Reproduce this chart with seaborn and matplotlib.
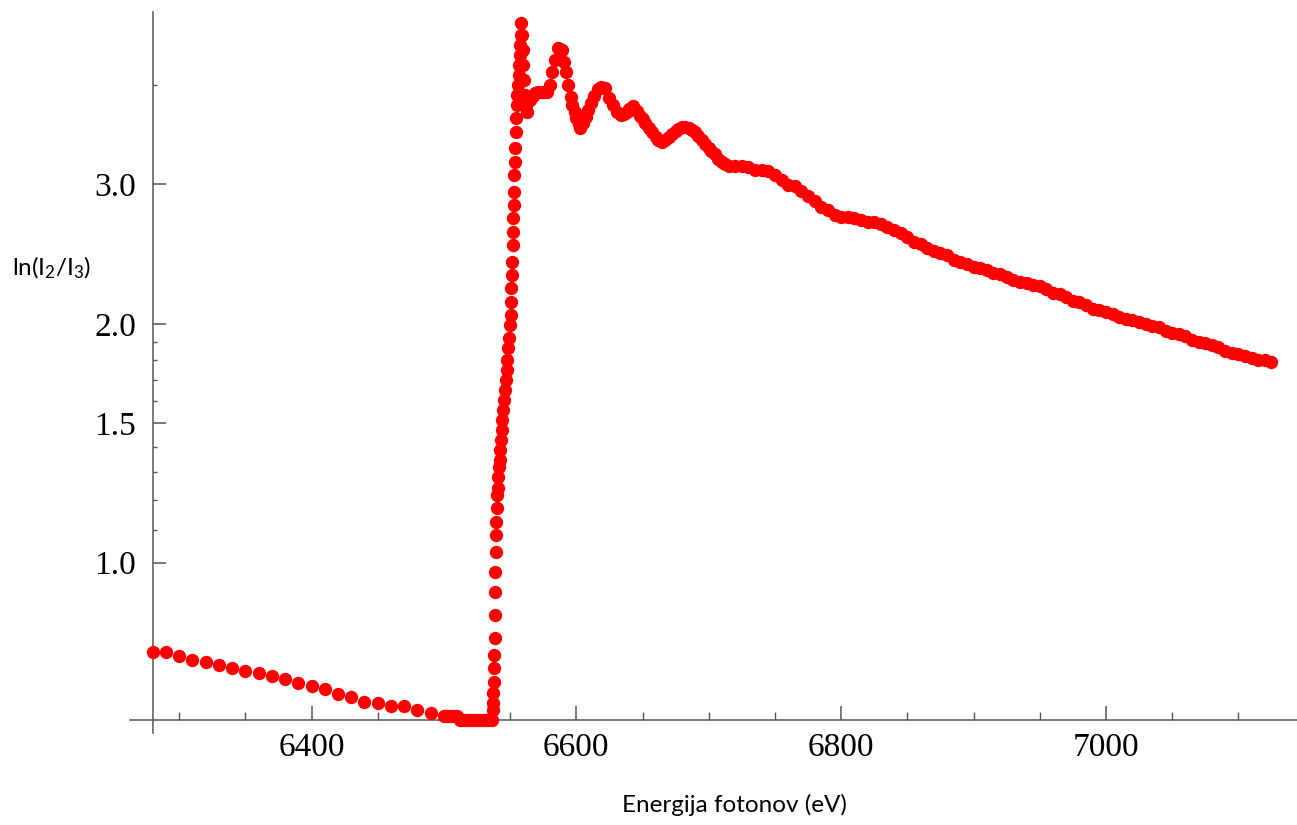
import numpy as np
import pandas as pd
import matplotlib
matplotlib.use('Agg')
import matplotlib.pyplot as plt
import matplotlib.ticker as mticker
import seaborn as sns

# pre-edge points (10 eV step)
energy_pre = [6280, 6290, 6300, 6310, 6320, 6330, 6340, 6350, 6360, 6370, 6380, 6390,
              6400, 6410, 6420, 6430, 6440, 6450, 6460, 6470, 6480, 6490, 6500]
lnratio_pre = [0.771, 0.771, 0.763, 0.755, 0.750, 0.744, 0.737, 0.731, 0.725, 0.719, 0.713, 0.706,
               0.700, 0.694, 0.684, 0.678, 0.668, 0.665, 0.660, 0.660, 0.653, 0.647, 0.641]

# flat bottom just before the edge
energy_floor = [6502, 6504, 6506, 6508, 6510, 6512, 6514, 6516, 6518, 6520, 6522, 6524,
                6526, 6528, 6530, 6532, 6534, 6536]
lnratio_floor = [0.641, 0.641, 0.641, 0.641, 0.641, 0.633, 0.633, 0.633, 0.633, 0.633, 0.633, 0.633,
                 0.633, 0.633, 0.633, 0.633, 0.633, 0.633]

# absorption edge
energy_edge = [6536.8, 6537.2, 6537.4, 6537.6, 6537.8, 6538.0, 6538.2, 6538.4, 6538.6, 6538.8,
               6539.0, 6539.2, 6539.5, 6539.8, 6540.1, 6540.5, 6541.0, 6541.5, 6542.0, 6542.5,
               6543.0, 6543.5, 6544.0, 6544.7, 6545.4, 6546.0, 6546.7, 6547.3, 6548.0, 6548.7,
               6549.5, 6550.0, 6550.3, 6550.6, 6550.9, 6551.2, 6551.5, 6551.8, 6552.1, 6552.4,
               6552.7, 6553.0, 6553.3, 6553.6, 6553.9, 6554.2, 6554.6, 6555.0, 6555.5, 6556.0,
               6556.4, 6556.8, 6557.2, 6557.6, 6558.0, 6558.5, 6559.0, 6559.5, 6560.0, 6560.5,
               6561.0, 6562.0, 6563.0]
lnratio_edge = [0.652, 0.665, 0.685, 0.707, 0.737, 0.765, 0.804, 0.859, 0.918, 0.973,
                1.032, 1.084, 1.126, 1.172, 1.217, 1.242, 1.283, 1.320, 1.347, 1.387,
                1.428, 1.470, 1.513, 1.558, 1.604, 1.651, 1.700, 1.750, 1.801, 1.865,
                1.920, 1.994, 2.053, 2.132, 2.220, 2.306, 2.394, 2.516, 2.612, 2.721,
                2.825, 2.934, 3.082, 3.201, 3.334, 3.493, 3.637, 3.777, 3.888, 4.003,
                4.121, 4.242, 4.367, 4.495, 4.627, 4.792, 4.627, 4.431, 4.242, 4.062,
                3.888, 3.777, 3.700]

# post-edge oscillations and decay
energy_post = [6565, 6567, 6569, 6571, 6573, 6575, 6578, 6580, 6582, 6584, 6586, 6588, 6589,
               6591, 6592, 6594, 6596, 6597, 6599, 6600, 6602, 6603, 6605, 6607, 6609, 6611,
               6613, 6616, 6619, 6622, 6625, 6628, 6631, 6634, 6636, 6638, 6640, 6643, 6646,
               6648, 6650, 6652, 6655, 6657, 6660, 6662, 6665, 6667, 6670, 6672, 6675, 6677,
               6680, 6682, 6685, 6687, 6690, 6692, 6695, 6697, 6700, 6702, 6705, 6707, 6710,
               6712, 6715, 6720, 6725, 6730, 6735, 6740, 6745, 6750, 6755, 6760, 6765, 6770,
               6775, 6780, 6785, 6790, 6795, 6800, 6805, 6810, 6815, 6820, 6825, 6830, 6835,
               6840, 6845, 6850, 6855, 6860, 6865, 6870, 6875, 6880, 6885, 6890, 6895, 6900,
               6905, 6910, 6915, 6920, 6925, 6930, 6935, 6940, 6945, 6950, 6955, 6960, 6965,
               6970, 6975, 6980, 6985, 6990, 6995, 7000, 7005, 7010, 7015, 7020, 7025, 7030,
               7035, 7040, 7045, 7050, 7055, 7060, 7065, 7070, 7075, 7080, 7085, 7090, 7095,
               7100, 7105, 7110, 7115, 7120, 7125]
lnratio_post = [3.83, 3.87, 3.91, 3.92, 3.92, 3.92, 3.92, 4.00, 4.16, 4.30, 4.46, 4.44, 4.43,
                4.28, 4.15, 4.00, 3.86, 3.78, 3.70, 3.64, 3.57, 3.53, 3.58, 3.65, 3.72, 3.80,
                3.87, 3.95, 3.98, 3.96, 3.85, 3.77, 3.70, 3.67, 3.68, 3.70, 3.73, 3.76, 3.71,
                3.66, 3.62, 3.58, 3.53, 3.49, 3.44, 3.41, 3.39, 3.41, 3.44, 3.47, 3.50, 3.52,
                3.54, 3.54, 3.53, 3.51, 3.49, 3.45, 3.41, 3.37, 3.33, 3.30, 3.27, 3.23, 3.20,
                3.18, 3.16, 3.16, 3.16, 3.15, 3.13, 3.13, 3.12, 3.08, 3.04, 2.99, 2.98, 2.94,
                2.90, 2.86, 2.81, 2.78, 2.74, 2.73, 2.725, 2.72, 2.70, 2.69, 2.685, 2.67, 2.65,
                2.63, 2.60, 2.57, 2.54, 2.52, 2.49, 2.47, 2.46, 2.44, 2.41, 2.39, 2.38, 2.36,
                2.35, 2.34, 2.32, 2.31, 2.29, 2.27, 2.26, 2.25, 2.24, 2.23, 2.21, 2.19, 2.18,
                2.16, 2.14, 2.13, 2.11, 2.09, 2.08, 2.07, 2.06, 2.04, 2.03, 2.02, 2.01, 2.00,
                1.99, 1.98, 1.96, 1.95, 1.94, 1.93, 1.91, 1.90, 1.89, 1.88, 1.87, 1.85, 1.84,
                1.83, 1.82, 1.81, 1.80, 1.80, 1.79]

x_major = [6400, 6600, 6800, 7000]
x_minor = [6300, 6350, 6450, 6500, 6550, 6650, 6700, 6750, 6850, 6900, 6950, 7050, 7100]
y_major = [1.0, 1.5, 2.0, 3.0]
y_minor = [1.1, 1.2, 1.3, 1.4, 1.6, 1.7, 1.8, 1.9, 4.0]

df = pd.DataFrame({
    'E': energy_pre + energy_floor + energy_edge + energy_post,
    'ln': lnratio_pre + lnratio_floor + lnratio_edge + lnratio_post,
})

sns.set_style('white')
axis_color = '#555555'

fig = plt.figure(figsize=(12.97, 8.25), dpi=100)
ax = fig.add_axes([130 / 1297, 92 / 825, 1167 / 1297, 720.7 / 825])

sns.scatterplot(data=df, x='E', y='ln', ax=ax, color='#ff0000', s=92,
                linewidth=0, zorder=5, clip_on=False)

ax.set_yscale('log')
ax.set_xlim(6262.9, 7144.3)
ax.set_ylim(0.610, 4.94)

# Mathematica-like crossing axes
for side in ['top', 'right']:
    ax.spines[side].set_visible(False)
ax.spines['left'].set_position(('data', 6280))
ax.spines['bottom'].set_position(('data', 0.633))
for side in ['left', 'bottom']:
    ax.spines[side].set_color(axis_color)
    ax.spines[side].set_linewidth(1.1)

ax.xaxis.set_major_locator(mticker.FixedLocator(x_major))
ax.xaxis.set_minor_locator(mticker.FixedLocator(x_minor))
ax.yaxis.set_major_locator(mticker.FixedLocator(y_major))
ax.yaxis.set_minor_locator(mticker.FixedLocator(y_minor))
ax.xaxis.set_major_formatter(mticker.FormatStrFormatter('%d'))
ax.yaxis.set_major_formatter(mticker.FormatStrFormatter('%.1f'))
ax.xaxis.set_minor_formatter(mticker.NullFormatter())
ax.yaxis.set_minor_formatter(mticker.NullFormatter())

ax.tick_params(which='both', bottom=True, left=True, top=False, right=False)
ax.tick_params(axis='x', which='major', direction='in', length=10, width=1.1,
               color=axis_color, pad=9)
ax.tick_params(axis='x', which='minor', direction='in', length=6, width=1.0,
               color=axis_color)
ax.tick_params(axis='y', which='major', direction='in', length=9.5, width=1.1,
               color=axis_color, pad=12)
ax.tick_params(axis='y', which='minor', direction='in', length=3, width=1.0,
               color=axis_color)
for lab in ax.get_xticklabels() + ax.get_yticklabels():
    lab.set_fontfamily('Liberation Serif')
    lab.set_fontsize(24)
    lab.set_color('black')

ax.set_xlabel('Energija fotonov (eV)', fontfamily='Lato', fontsize=17.5, color='black')
ax.xaxis.set_label_coords(0.518, -0.10)
ax.xaxis.label.set_va('center')
ax.set_ylabel(r'$\mathregular{ln(I_2/I_3)}$', fontfamily='Lato', fontsize=17.5,
              color='black', rotation=0)
ax.yaxis.set_label_coords(-0.067, 0.645)
ax.yaxis.label.set_va('center')
ax.yaxis.label.set_ha('center')

ax.grid(False)
fig.savefig('out.png', dpi=100)
